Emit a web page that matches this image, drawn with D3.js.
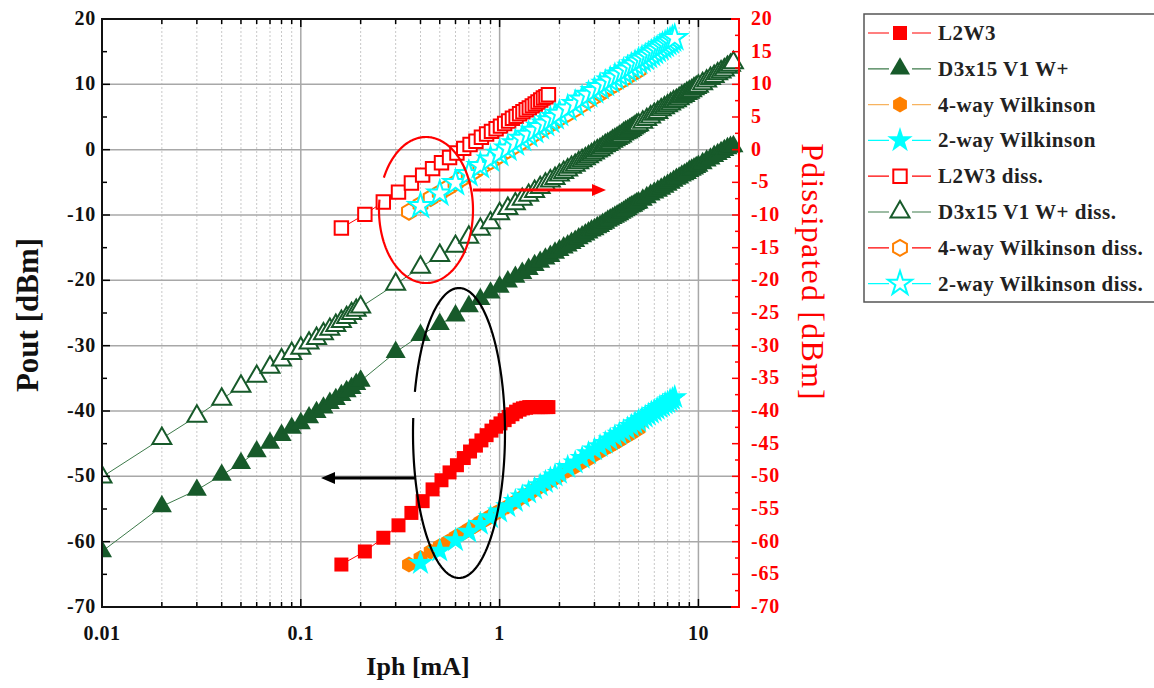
<!DOCTYPE html>
<html><head><meta charset="utf-8">
<script src="https://cdn.jsdelivr.net/npm/d3@7"></script>
<style>body{margin:0;background:#fff} text{font-family:"Liberation Serif","Times New Roman",serif}</style>
</head><body><svg id="c" width="1154" height="688"></svg>
<script>
// ---------- data (Iph [mA], dBm) ----------
const l2w3 = [[0.16,-63.5],[0.21,-61.5],[0.26,-59.4],[0.31,-57.5],[0.36,-55.6],[0.41,-53.8],[0.46,-52.0],[0.51,-50.6],[0.56,-49.4],[0.61,-48.3],[0.66,-47.2],[0.71,-46.2],[0.76,-45.3],[0.81,-44.5],[0.86,-43.7],[0.91,-43.0],[0.96,-42.4],[1.01,-41.9],[1.06,-41.4],[1.11,-40.9],[1.16,-40.5],[1.21,-40.1],[1.26,-39.8],[1.31,-39.6],[1.36,-39.5],[1.41,-39.4],[1.46,-39.4],[1.51,-39.4],[1.56,-39.4],[1.61,-39.4],[1.66,-39.4],[1.71,-39.4],[1.76,-39.4]];
const d3x15 = [[0.01,-61.5],[0.02,-54.6],[0.03,-52.1],[0.04,-49.8],[0.05,-48.0],[0.06,-46.2],[0.07,-44.9],[0.08,-43.7],[0.09,-42.6],[0.1,-41.9],[0.11,-41.0],[0.12,-40.2],[0.13,-39.5],[0.14,-38.8],[0.15,-38.2],[0.16,-37.6],[0.17,-37.0],[0.18,-36.5],[0.19,-35.9],[0.2,-35.4],[0.3,-31.0],[0.4,-28.4],[0.5,-26.7],[0.6,-25.4],[0.7,-24.0],[0.8,-22.9],[0.9,-21.9],[1.0,-21.0],[1.1,-20.2],[1.2,-19.5],[1.3,-18.9],[1.4,-18.3],[1.5,-17.7],[1.6,-17.2],[1.7,-16.7],[1.8,-16.3],[1.9,-15.8],[2.0,-15.4],[2.1,-15.0],[2.2,-14.7],[2.3,-14.3],[2.4,-14.0],[2.5,-13.6],[2.6,-13.3],[2.7,-13.0],[2.8,-12.7],[2.9,-12.4],[3.0,-12.2],[3.1,-11.9],[3.2,-11.7],[3.3,-11.4],[3.4,-11.2],[3.5,-10.9],[3.6,-10.7],[3.7,-10.5],[3.8,-10.3],[3.9,-10.1],[4.0,-9.9],[4.1,-9.7],[4.2,-9.5],[4.3,-9.3],[4.4,-9.1],[4.5,-8.9],[4.6,-8.7],[4.7,-8.6],[4.8,-8.4],[4.9,-8.2],[5.0,-8.1],[5.25,-7.7],[5.5,-7.3],[5.75,-6.9],[6.0,-6.6],[6.25,-6.3],[6.5,-6.0],[6.75,-5.7],[7.0,-5.4],[7.25,-5.1],[7.5,-4.8],[7.75,-4.5],[8.0,-4.3],[8.25,-4.0],[8.5,-3.8],[8.75,-3.6],[9.0,-3.3],[9.25,-3.1],[9.5,-2.9],[9.75,-2.7],[10,-2.5],[10.5,-2.1],[11,-1.7],[11.5,-1.4],[12,-1.0],[12.5,-0.7],[13,-0.4],[13.5,-0.1],[14,0.2],[14.5,0.4],[15,0.5]];
const wilk4 = [[0.35,-63.5],[0.4,-62.5],[0.45,-61.5],[0.5,-60.7],[0.55,-60.0],[0.6,-59.3],[0.65,-58.7],[0.7,-58.1],[0.75,-57.6],[0.8,-57.0],[0.85,-56.6],[0.9,-56.1],[0.95,-55.7],[1.0,-55.3],[1.1,-54.6],[1.2,-53.9],[1.3,-53.2],[1.4,-52.7],[1.5,-52.1],[1.6,-51.6],[1.7,-51.2],[1.8,-50.7],[1.9,-50.3],[2.0,-49.9],[2.2,-49.1],[2.4,-48.5],[2.6,-47.8],[2.8,-47.3],[3.0,-46.7],[3.2,-46.2],[3.4,-45.7],[3.6,-45.3],[3.8,-44.9],[4.0,-44.5],[4.2,-44.1],[4.4,-43.7],[4.6,-43.4],[4.8,-43.0],[5.0,-42.7]];
const wilk2 = [[0.4,-63.3],[0.5,-61.4],[0.6,-59.8],[0.7,-58.5],[0.8,-57.3],[0.9,-56.3],[1.0,-55.4],[1.1,-54.6],[1.2,-53.8],[1.3,-53.1],[1.4,-52.5],[1.5,-51.9],[1.6,-51.4],[1.7,-50.9],[1.8,-50.4],[1.9,-49.9],[2.0,-49.5],[2.2,-48.6],[2.4,-47.9],[2.6,-47.2],[2.8,-46.5],[3.0,-45.9],[3.2,-45.4],[3.4,-44.9],[3.6,-44.4],[3.8,-43.9],[4.0,-43.5],[4.2,-43.1],[4.4,-42.7],[4.6,-42.3],[4.8,-41.9],[5.0,-41.6],[5.2,-41.2],[5.4,-40.9],[5.6,-40.6],[5.8,-40.3],[6.0,-40.0],[6.2,-39.7],[6.4,-39.4],[6.6,-39.2],[6.8,-38.9],[7.0,-38.7],[7.2,-38.4],[7.4,-38.2],[7.6,-37.9]];
const l2w3Diss = [[0.16,-12.0],[0.21,-9.9],[0.26,-8.0],[0.31,-6.5],[0.36,-5.1],[0.41,-3.9],[0.46,-2.9],[0.51,-2.0],[0.56,-1.2],[0.61,-0.5],[0.66,0.2],[0.71,0.8],[0.76,1.3],[0.81,1.9],[0.86,2.4],[0.91,2.8],[0.96,3.2],[1.01,3.6],[1.06,4.0],[1.11,4.4],[1.16,4.8],[1.21,5.1],[1.26,5.5],[1.31,5.8],[1.36,6.1],[1.41,6.4],[1.46,6.7],[1.51,7.0],[1.56,7.3],[1.61,7.6],[1.66,7.9],[1.71,8.1],[1.76,8.4]];
const d3x15Diss = [[0.01,-50.1],[0.02,-44.2],[0.03,-40.8],[0.04,-38.2],[0.05,-36.2],[0.06,-34.7],[0.07,-33.3],[0.08,-32.2],[0.09,-31.2],[0.1,-30.4],[0.11,-29.6],[0.12,-28.9],[0.13,-28.2],[0.14,-27.5],[0.15,-26.9],[0.16,-26.3],[0.17,-25.7],[0.18,-25.1],[0.19,-24.6],[0.2,-24.1],[0.3,-20.6],[0.4,-18.0],[0.5,-16.2],[0.6,-14.8],[0.7,-13.4],[0.8,-12.2],[0.9,-11.2],[1.0,-9.8],[1.1,-9.0],[1.2,-8.3],[1.3,-7.6],[1.4,-7.0],[1.5,-6.4],[1.6,-5.8],[1.7,-5.3],[1.8,-4.8],[1.9,-4.4],[2.0,-3.9],[2.1,-3.5],[2.2,-3.1],[2.3,-2.7],[2.4,-2.4],[2.5,-2.0],[2.6,-1.7],[2.7,-1.4],[2.8,-1.1],[2.9,-0.8],[3.0,-0.5],[3.1,-0.2],[3.2,0.0],[3.3,0.3],[3.4,0.6],[3.5,0.8],[3.6,1.0],[3.7,1.3],[3.8,1.5],[3.9,1.7],[4.0,1.9],[4.1,2.1],[4.2,2.4],[4.3,2.6],[4.4,2.7],[4.5,2.9],[4.6,3.1],[4.7,3.3],[4.8,3.5],[4.9,3.7],[5.0,3.8],[5.25,4.2],[5.5,4.6],[5.75,5.0],[6.0,5.4],[6.25,5.7],[6.5,6.1],[6.75,6.4],[7.0,6.7],[7.25,7.0],[7.5,7.3],[7.75,7.5],[8.0,7.8],[8.25,8.1],[8.5,8.3],[8.75,8.6],[9.0,8.8],[9.25,9.0],[9.5,9.3],[9.75,9.5],[10,9.7],[10.5,10.1],[11,10.5],[11.5,10.9],[12,11.2],[12.5,11.6],[13,11.9],[13.5,12.2],[14,12.6],[14.5,12.9],[15,13.3]];
const wilk4Diss = [[0.35,-9.5],[0.4,-8.4],[0.45,-7.4],[0.5,-6.6],[0.55,-5.8],[0.6,-5.1],[0.65,-4.4],[0.7,-3.8],[0.75,-3.3],[0.8,-2.7],[0.85,-2.2],[0.9,-1.8],[0.95,-1.3],[1.0,-0.9],[1.1,-0.1],[1.2,0.6],[1.3,1.2],[1.4,1.8],[1.5,2.4],[1.6,2.9],[1.7,3.4],[1.8,3.9],[1.9,4.3],[2.0,4.8],[2.2,5.5],[2.4,6.2],[2.6,6.9],[2.8,7.5],[3.0,8.1],[3.2,8.6],[3.4,9.1],[3.6,9.6],[3.8,10.0],[4.0,10.4],[4.2,10.8],[4.4,11.2],[4.6,11.6],[4.8,11.9],[5.0,12.2]];
const wilk2Diss = [[0.4,-8.6],[0.5,-6.7],[0.6,-5.1],[0.7,-3.7],[0.8,-2.5],[0.9,-1.5],[1.0,-0.6],[1.1,0.2],[1.2,1.0],[1.3,1.7],[1.4,2.3],[1.5,2.9],[1.6,3.5],[1.7,4.0],[1.8,4.5],[1.9,5.0],[2.0,5.5],[2.2,6.3],[2.4,7.0],[2.6,7.7],[2.8,8.4],[3.0,9.0],[3.2,9.6],[3.4,10.1],[3.6,10.6],[3.8,11.1],[4.0,11.5],[4.2,11.9],[4.4,12.3],[4.6,12.7],[4.8,13.1],[5.0,13.5],[5.2,13.8],[5.4,14.1],[5.6,14.4],[5.8,14.7],[6.0,15.0],[6.2,15.3],[6.4,15.6],[6.6,15.9],[6.8,16.1],[7.0,16.4],[7.2,16.6],[7.4,16.9],[7.6,17.1]];

const xTickValues = [0.01, 0.1, 1, 10];
const xTickLabels = ["0.01", "0.1", "1", "10"];
const yLeftTicks = [20, 10, 0, -10, -20, -30, -40, -50, -60, -70];
const yRightTicks = [20, 15, 10, 5, 0, -5, -10, -15, -20, -25, -30, -35, -40, -45, -50, -55, -60, -65, -70];
const legendLabels = ["L2W3", "D3x15 V1 W+", "4-way Wilkinson", "2-way Wilkinson", "L2W3 diss.", "D3x15 V1 W+ diss.", "4-way Wilkinson diss.", "2-way Wilkinson diss."];

// ---------- layout ----------
const svg = d3.select("#c");
const L = 102, R = 739, T = 19, B = 607;
const x = d3.scaleLog().domain([0.01, 16]).range([L, R]);
const y = d3.scaleLinear().domain([-70, 20]).range([B, T]);
const yr = d3.scaleLinear().domain([-70, 20]).range([B, T]);

const RED = "#ff0000", GREEN = "#175a2a", LGREEN = "#3d7a4a", ORANGE = "#ff8000", CYAN = "#00ffff";

svg.append("defs").append("clipPath").attr("id", "clip")
  .append("rect").attr("x", L).attr("y", T - 10).attr("width", R - L + 8).attr("height", B - T + 10);

// grid
const minorX = [];
[0.01, 0.1, 1, 10].forEach(d => { for (let k = 2; k <= 9; k++) { const v = d * k; if (v < 16) minorX.push(v); } });
svg.append("g").selectAll("line").data(minorX).join("line")
  .attr("x1", d => x(d)).attr("x2", d => x(d)).attr("y1", T).attr("y2", B)
  .attr("stroke", "#c8c8c8").attr("stroke-width", 1).attr("stroke-dasharray", "2,2");
svg.append("g").selectAll("line").data([0.1, 1, 10]).join("line")
  .attr("x1", d => x(d)).attr("x2", d => x(d)).attr("y1", T).attr("y2", B)
  .attr("stroke", "#a8a8a8").attr("stroke-width", 1.5);
svg.append("g").selectAll("line").data(yLeftTicks.filter(d => d > -70 && d < 20)).join("line")
  .attr("x1", L).attr("x2", R).attr("y1", d => y(d)).attr("y2", d => y(d))
  .attr("stroke", "#a8a8a8").attr("stroke-width", 1.5);

// ---------- symbols ----------
function hexPath(r) {
  const p = d3.path();
  for (let i = 0; i < 6; i++) {
    const a = -Math.PI / 2 + i * Math.PI / 3;
    const px = r * Math.cos(a), py = r * Math.sin(a);
    if (i === 0) p.moveTo(px, py); else p.lineTo(px, py);
  }
  p.closePath();
  return p.toString();
}
const shapes = {
  square: d3.symbol(d3.symbolSquare, 196)(),
  osquare: d3.symbol(d3.symbolSquare, 180)(),
  triangle: d3.symbol(d3.symbolTriangle, 175)(),
  otriangle: d3.symbol(d3.symbolTriangle, 155)(),
  hex: hexPath(8),
  ohex: hexPath(8),
  star: d3.symbol(d3.symbolStar, 200)(),
  ostar: d3.symbol(d3.symbolStar, 180)()
};

const series = [
  {data: l2w3, shape: "square", fill: RED, stroke: "none", sw: 0, line: RED, yS: y},
  {data: d3x15, shape: "triangle", fill: GREEN, stroke: "none", sw: 0, line: LGREEN, yS: y},
  {data: wilk4, shape: "hex", fill: ORANGE, stroke: "none", sw: 0, line: "#f7b35f", yS: y},
  {data: wilk2, shape: "star", fill: CYAN, stroke: "none", sw: 0, line: CYAN, yS: y},
  {data: l2w3Diss, shape: "osquare", fill: "#fff", stroke: RED, sw: 2, line: RED, yS: yr},
  {data: d3x15Diss, shape: "otriangle", fill: "#fff", stroke: GREEN, sw: 2, line: LGREEN, yS: yr},
  {data: wilk4Diss, shape: "ohex", fill: "#fff", stroke: ORANGE, sw: 2, line: RED, yS: yr},
  {data: wilk2Diss, shape: "ostar", fill: "#fff", stroke: CYAN, sw: 2, line: CYAN, yS: yr}
];

const plot = svg.append("g").attr("clip-path", "url(#clip)");
series.forEach(s => {
  plot.append("path").datum(s.data)
    .attr("d", d3.line().x(d => x(d[0])).y(d => s.yS(d[1])))
    .attr("fill", "none").attr("stroke", s.line).attr("stroke-width", 1);
});
series.forEach(s => {
  plot.append("g").selectAll("path").data(s.data).join("path")
    .attr("d", shapes[s.shape])
    .attr("transform", d => `translate(${x(d[0])},${s.yS(d[1])})`)
    .attr("fill", s.fill).attr("stroke", s.stroke).attr("stroke-width", s.sw)
    .attr("stroke-linejoin", "miter");
});

// ---------- annotations ----------
function ellipseArc(cx, cy, rx, ry, a0, a1) {
  const pts = d3.range(0, 201).map(i => { const t = a0 + (a1 - a0) * i / 200; return [cx + rx * Math.cos(t), cy + ry * Math.sin(t)]; });
  return d3.line()(pts);
}
svg.append("path").attr("d", ellipseArc(426, 210, 47, 73, Math.atan2(-0.44, -0.89), Math.atan2(-0.14, -0.98) + 2 * Math.PI))
  .attr("fill", "none").attr("stroke", RED).attr("stroke-width", 2.2);
svg.append("path").attr("d", ellipseArc(459, 433, 46, 145, Math.atan2(-0.283, -0.956), Math.atan2(-0.103, -0.995) + 2 * Math.PI))
  .attr("fill", "none").attr("stroke", "#000").attr("stroke-width", 2.2);
svg.append("line").attr("x1", 473).attr("y1", 190).attr("x2", 594).attr("y2", 190).attr("stroke", RED).attr("stroke-width", 3);
svg.append("path").attr("d", "M606,190 L592,184 L592,196 Z").attr("fill", RED);
svg.append("line").attr("x1", 415).attr("y1", 478).attr("x2", 333).attr("y2", 478).attr("stroke", "#000").attr("stroke-width", 3);
svg.append("path").attr("d", "M321,478 L335,472 L335,484 Z").attr("fill", "#000");

// ---------- axes ----------
const minorY = d3.range(-65, 20, 10);
const minorYr = d3.range(-67.5, 20, 5);
svg.append("g").selectAll("line").data(yLeftTicks).join("line")
  .attr("x1", L).attr("x2", L + 8).attr("y1", d => y(d)).attr("y2", d => y(d)).attr("stroke", "#000").attr("stroke-width", 1.5);
svg.append("g").selectAll("line").data(minorY).join("line")
  .attr("x1", L).attr("x2", L + 5).attr("y1", d => y(d)).attr("y2", d => y(d)).attr("stroke", "#000").attr("stroke-width", 1.5);
svg.append("g").selectAll("text").data(yLeftTicks).join("text")
  .attr("x", L - 6).attr("y", d => y(d) + 6).attr("text-anchor", "end")
  .attr("font-size", 20).attr("font-weight", "bold").attr("letter-spacing", 0.8).attr("fill", "#111").text(d => d);
[B, T].forEach((yy, i) => {
  const dir = i === 0 ? -1 : 1;
  svg.append("g").selectAll("line").data(xTickValues.filter(d => d > 0.01)).join("line")
    .attr("x1", d => x(d)).attr("x2", d => x(d)).attr("y1", yy).attr("y2", yy + dir * 8).attr("stroke", "#000").attr("stroke-width", 1.5);
  svg.append("g").selectAll("line").data(minorX).join("line")
    .attr("x1", d => x(d)).attr("x2", d => x(d)).attr("y1", yy).attr("y2", yy + dir * 5).attr("stroke", "#000").attr("stroke-width", 1.5);
});
svg.append("g").selectAll("text").data(xTickValues).join("text")
  .attr("x", d => x(d)).attr("y", 640).attr("text-anchor", "middle")
  .attr("font-size", 20).attr("font-weight", "bold").attr("letter-spacing", 0.5).attr("fill", "#111").text((d, i) => xTickLabels[i]);
svg.append("g").selectAll("line").data(yRightTicks).join("line")
  .attr("x1", R).attr("x2", R - 7).attr("y1", d => yr(d)).attr("y2", d => yr(d)).attr("stroke", RED).attr("stroke-width", 1.5);
svg.append("g").selectAll("line").data(minorYr).join("line")
  .attr("x1", R).attr("x2", R - 4).attr("y1", d => yr(d)).attr("y2", d => yr(d)).attr("stroke", RED).attr("stroke-width", 1.5);
svg.append("g").selectAll("text").data(yRightTicks).join("text")
  .attr("x", R + 12).attr("y", d => yr(d) + 6).attr("text-anchor", "start")
  .attr("font-size", 20).attr("font-weight", "bold").attr("letter-spacing", 0.8).attr("fill", RED).text(d => d);
svg.append("path").attr("d", `M${R},${T} L${L},${T} L${L},${B} L${R},${B}`).attr("fill", "none").attr("stroke", "#111").attr("stroke-width", 2);
svg.append("line").attr("x1", R).attr("x2", R).attr("y1", T - 1).attr("y2", B + 1).attr("stroke", RED).attr("stroke-width", 2);
svg.append("line").attr("x1", R - 8).attr("x2", R).attr("y1", B).attr("y2", B).attr("stroke", RED).attr("stroke-width", 2);
svg.append("line").attr("x1", R - 8).attr("x2", R).attr("y1", T).attr("y2", T).attr("stroke", RED).attr("stroke-width", 2);

// titles
svg.append("text").attr("x", 418).attr("y", 675).attr("text-anchor", "middle")
  .attr("font-size", 26).attr("font-weight", "bold").attr("fill", "#111").text("Iph [mA]");
svg.append("text").attr("transform", "translate(38,315) rotate(-90)").attr("text-anchor", "middle")
  .attr("font-size", 31).attr("font-weight", "bold").attr("fill", "#111").text("Pout [dBm]");
svg.append("text").attr("transform", "translate(802,272) rotate(90)").attr("text-anchor", "middle")
  .attr("font-size", 32).attr("letter-spacing", 1.2).attr("fill", RED).text("Pdissipated [dBm]");

// ---------- legend ----------
const lg = svg.append("g");
lg.append("rect").attr("x", 864).attr("y", 14).attr("width", 300).attr("height", 288)
  .attr("fill", "#fff").attr("stroke", "#555").attr("stroke-width", 1.5);
const legLine = [RED, LGREEN, "#f7b35f", CYAN, RED, LGREEN, RED, CYAN];
series.forEach((s, i) => {
  const cy = 33 + i * 35.8;
  const g = lg.append("g");
  g.append("line").attr("x1", 868).attr("x2", 931).attr("y1", cy).attr("y2", cy).attr("stroke", legLine[i]).attr("stroke-width", 1.2);
  g.append("rect").attr("x", 889).attr("y", cy - 10).attr("width", 23).attr("height", 20).attr("fill", "#fff");
  g.append("path").attr("d", shapes[s.shape]).attr("transform", `translate(900,${cy})`)
    .attr("fill", s.fill).attr("stroke", s.stroke).attr("stroke-width", s.sw);
  g.append("text").attr("x", 938).attr("y", cy + 7).attr("font-size", 21).attr("font-weight", "bold")
    .attr("letter-spacing", 0.5).attr("fill", "#222").text(legendLabels[i]);
});
</script>
</body></html>
